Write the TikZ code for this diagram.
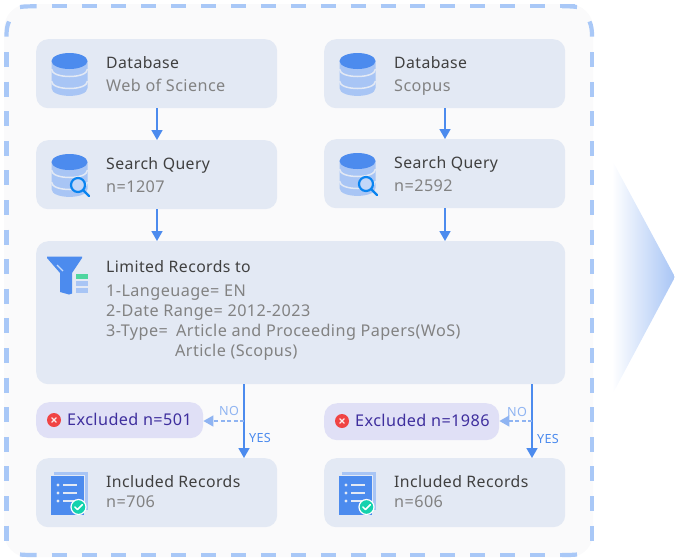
\documentclass[tikz,border=0pt]{standalone}
\usepackage{fontspec}
\setmainfont[LetterSpace=2.6]{Noto Sans}
\usetikzlibrary{arrows.meta}
\definecolor{boxfill}{HTML}{E3E9F4}
\definecolor{exfill}{HTML}{E0E0F6}
\definecolor{outerfill}{HTML}{FAFAFB}
\definecolor{dashblue}{HTML}{A9C8F7}
\definecolor{mainblue}{HTML}{4C8BEE}
\definecolor{lightblue}{HTML}{A8C5F5}
\definecolor{titlecol}{HTML}{404040}
\definecolor{subcol}{HTML}{828282}
\definecolor{excol}{HTML}{3F2F9E}
\definecolor{magblue}{HTML}{0A84F0}
\definecolor{okgreen}{HTML}{14D2AE}
\definecolor{filtergreen}{HTML}{4FD6A0}
\definecolor{redx}{HTML}{F04444}
\definecolor{nocol}{HTML}{8FB4F2}
\tikzset{
 x=1pt,y=-1pt,
 card/.style={fill=boxfill,draw=none,rounded corners=12pt},
 exbox/.style={fill=exfill,draw=none,rounded corners=13pt},
 title/.style={anchor=base west,inner sep=0pt,text=titlecol,font=\fontsize{15.8}{18}\selectfont},
 sub/.style={anchor=base west,inner sep=0pt,text=subcol,font=\fontsize{16.2}{18}\selectfont},
 extext/.style={anchor=base west,inner sep=0pt,text=excol,font=\fontsize{16.2}{18}\selectfont},
 yeslab/.style={anchor=base west,inner sep=0pt,text=mainblue,font=\fontsize{12.6}{12}\selectfont},
 nolab/.style={anchor=base west,inner sep=0pt,text=nocol,font=\fontsize{12.6}{12}\selectfont},
 flow/.style={draw=mainblue,line width=1.7pt,-{Triangle[length=10pt,width=11pt]}},
 noflow/.style={draw=nocol,line width=1.5pt,dash pattern=on 4pt off 2.5pt,-{Triangle[length=10pt,width=11pt]}},
 vdash/.style={draw=dashblue,line width=4.2pt,dash pattern=on 15pt off 14.6pt},
 hdash/.style={draw=dashblue,line width=4.2pt,dash pattern=on 15pt off 14.9pt},
 corner/.style={draw=dashblue,line width=4.2pt},
}
\newcommand{\dbicon}[2]{%
 \begin{scope}[shift={(#1,#2)}]
  \fill[lightblue] (-18,0) -- (-18,27) .. controls (-18,37.5) and (18,37.5) .. (18,27) -- (18,0) -- cycle;
  \draw[boxfill,line width=1.5pt] (-18,8) .. controls (-18,18) and (18,18) .. (18,8);
  \draw[boxfill,line width=1.5pt] (-18,20) .. controls (-18,30) and (18,30) .. (18,20);
  \fill[mainblue] (0,0) ellipse [x radius=18pt,y radius=8pt];
 \end{scope}}
\newcommand{\magicon}[2]{%
 \begin{scope}[shift={(#1,#2)}]
  \fill[lightblue!70!white] (0,0) circle [radius=7pt];
  \draw[magblue,line width=2.2pt] (0,0) circle [radius=7pt];
  \draw[magblue,line width=2.4pt,line cap=round] (5,5) -- (11,11);
 \end{scope}}
\newcommand{\docicon}[2]{%
 \begin{scope}[shift={(#1,#2)}]
  \fill[lightblue] (3,-4) -- (37,-4) -- (37,34) -- (3,34) -- cycle;
  \fill[boxfill] (0,-1) rectangle (34,36);
  \fill[mainblue] (0,0) rectangle (33,39);
  \foreach \yy in {9,17,25} {
   \fill[boxfill] (7,\yy) circle [radius=1.6pt];
   \draw[boxfill,line width=1.5pt] (12,\yy) -- (26,\yy);
  }
  \fill[okgreen,draw=white,line width=1.2pt] (27.5,31) circle [radius=7.5pt];
  \draw[white,line width=1.5pt,line cap=round,line join=round] (23.8,31) -- (26.5,33.5) -- (31.3,28.7);
 \end{scope}}
\newcommand{\xicon}[2]{%
 \begin{scope}[shift={(#1,#2)}]
  \fill[redx] (0,0) circle [radius=7pt];
  \draw[white!90!redx,line width=1.1pt,line cap=round] (-2.3,-2.3) -- (2.3,2.3) (-2.3,2.3) -- (2.3,-2.3);
 \end{scope}}
\begin{document}
\begin{tikzpicture}
\useasboundingbox (0,0) rectangle (675,558);
% outer panel
\node[fill=outerfill,draw=none,rounded corners=24pt,minimum width=589pt,minimum height=553pt,inner sep=0pt,anchor=north west] (panel) at (4,4) {};
% panel dashes
\draw[hdash] (51.67,6.3) -- (577,6.3);
\draw[hdash] (51.67,555) -- (577,555);
\draw[vdash] (6.5,52) -- (6.5,541);
\draw[vdash] (592,52) -- (592,541);
\draw[corner] (20,7) .. controls (25,6.3) and (30,6.3) .. (36.67,6.3);
\draw[corner] (577,7) .. controls (572,6.3) and (568,6.3) .. (562,6.3);
\draw[corner] (20,554.5) .. controls (25,555) and (30,555) .. (36.67,555);
\draw[corner] (577,554.5) .. controls (572,555) and (568,555) .. (562,555);
\draw[corner] (9,21.5) .. controls (7,26) and (6.5,30) .. (6.5,36.6);
\draw[corner] (589.5,21.5) .. controls (591.5,26) and (592,30) .. (592,36.6);
% arrow on the right
\shade[left color=white,right color=lightblue,draw=none] (612,160) -- (675,277) -- (612,395) -- cycle;
% cards
\node[card,minimum width=241pt,minimum height=69pt,inner sep=0pt,anchor=north west] (db1) at (36,39) {};
\node[card,minimum width=241pt,minimum height=69pt,inner sep=0pt,anchor=north west] (db2) at (324,39) {};
\node[card,minimum width=241pt,minimum height=69pt,inner sep=0pt,anchor=north west] (sq1) at (36,140) {};
\node[card,minimum width=241pt,minimum height=69pt,inner sep=0pt,anchor=north west] (sq2) at (324,139) {};
\node[card,minimum width=529pt,minimum height=143pt,inner sep=0pt,anchor=north west] (lim) at (36,241) {};
\node[exbox,minimum width=167pt,minimum height=36pt,inner sep=0pt,anchor=north west] (ex1) at (36,402) {};
\node[exbox,minimum width=175pt,minimum height=37pt,inner sep=0pt,anchor=north west] (ex2) at (324,403) {};
\node[card,minimum width=241pt,minimum height=69pt,inner sep=0pt,anchor=north west] (in1) at (36,458) {};
\node[card,minimum width=241pt,minimum height=69pt,inner sep=0pt,anchor=north west] (in2) at (324,458) {};
% icons
\dbicon{69.5}{61}
\dbicon{357.5}{61}
\dbicon{69.5}{162}
\dbicon{357.5}{161}
\magicon{78}{185}
\magicon{366}{184}
\fill[mainblue] (47,256.5) -- (82,256.5) -- (82,258) -- (72,273) -- (72,293.5) -- (69,294.5) -- (60,292) -- (60,273) -- (47,258) -- cycle;
\draw[white!70!mainblue,line width=1.2pt] (57,265) -- (63,271);
\fill[filtergreen] (76,274) rectangle (88,279);
\fill[lightblue] (76,281) rectangle (88,285.5);
\fill[lightblue] (76,288) rectangle (88,292.5);
\docicon{51}{476}
\docicon{339}{476}
\xicon{54}{420}
\xicon{342}{421}
% text
\node[title] (t1) at (106,68) {Database};
\node[sub] (s1) at (106,91) {Web of Science};
\node[title] (t2) at (394,68) {Database};
\node[sub] (s2) at (394,91) {Scopus};
\node[title] (t3) at (106,169) {Search Query};
\node[sub] (s3) at (106,192) {n=1207};
\node[title] (t4) at (394,168) {Search Query};
\node[sub] (s4) at (394,191) {n=2592};
\node[title] (t5) at (106,272) {Limited Records to};
\node[sub] (l1) at (106,296) {1-Langeuage= EN};
\node[sub] (l2) at (106,316) {2-Date Range= 2012-2023};
\node[sub] (l3) at (106,336) {3-Type=};
\node[sub] (l3b) at (176,336) {Article and Proceeding Papers(WoS)};
\node[sub] (l4) at (175,356) {Article (Scopus)};
\node[extext] (e1) at (67,425) {Excluded n=501};
\node[extext] (e2) at (355,426) {Excluded n=1986};
\node[title] (t6) at (106,487) {Included Records};
\node[sub] (s6) at (106,507) {n=706};
\node[title] (t7) at (394,487) {Included Records};
\node[sub] (s7) at (394,507) {n=606};
\node[nolab] (no1) at (219,415) {NO};
\node[nolab] (no2) at (507,416) {NO};
\node[yeslab] (yes1) at (249,442) {YES};
\node[yeslab] (yes2) at (537,443) {YES};
% junction coordinates
\coordinate (j1) at (244,421);
\coordinate (j2) at (532,421);
% connectors
\draw[flow] (db1.south -| 157,0) -- (sq1.north -| 157,0);
\draw[flow] (db2.south -| 445,0) -- (sq2.north -| 445,0);
\draw[flow] (sq1.south -| 157,0) -- (lim.north -| 157,0);
\draw[flow] (sq2.south -| 445,0) -- (lim.north -| 445,0);
\draw[flow] (lim.south -| 244,0) -- (in1.north -| 244,0);
\draw[flow] (lim.south -| 532,0) -- (in2.north -| 532,0);
\draw[noflow] (j1) -- (ex1.east |- j1);
\draw[noflow] (j2) -- (ex2.east |- j2);
\end{tikzpicture}
\end{document}
